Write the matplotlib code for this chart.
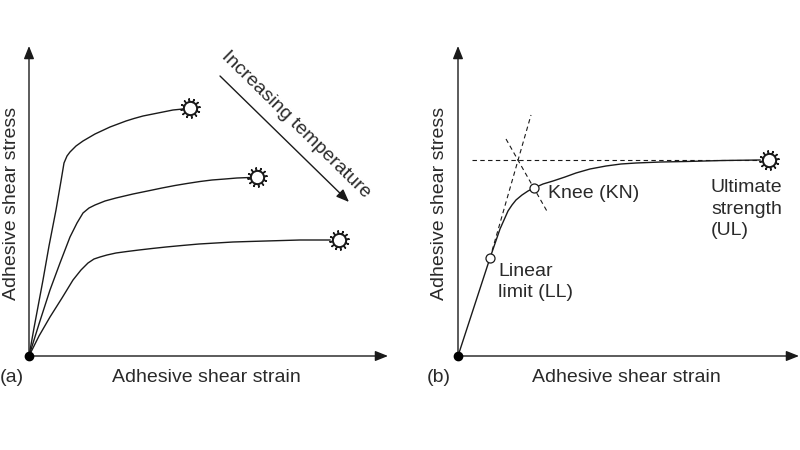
#!/usr/bin/env python
import matplotlib

matplotlib.use("Agg")
import matplotlib.pyplot as plt

plt.rcParams["font.family"] = ["Liberation Sans", "DejaVu Sans"]

curve_high_x = [0, 5, 14, 20, 27, 32, 35, 38, 41, 47, 54, 66, 81, 89, 97, 105, 114, 124, 134, 144, 154]
curve_high_y = [0, 28, 76, 110, 146, 175, 193, 200, 204, 210, 215, 222, 229, 232, 235, 237.5, 240, 242, 244, 246, 247]
curve_mid_x = [0, 10, 21, 31, 41, 48, 54, 60, 66, 76, 87, 104, 121, 133, 146, 158, 171, 183, 196, 208, 221]
curve_mid_y = [0, 32, 66, 93, 119, 133, 143, 148, 151, 155, 158, 162, 165.5, 168, 170.5, 172.5, 174.5, 176, 177, 178, 178.5]
curve_low_x = [0, 10, 21, 33, 44, 52, 59, 65, 71, 78, 87, 98, 110, 123, 137, 153, 170, 187, 204, 220, 237, 254, 271, 301]
curve_low_y = [0, 20, 39, 58, 76, 86, 93, 97, 99, 101, 103, 104.5, 106, 107.5, 109, 110.5, 112, 113, 114, 114.5, 115, 115.5, 116, 116]
fail_x = [161, 228, 310]
fail_y = [248, 179, 116]

curve_b_x = [0, 16, 32, 42, 50, 54, 58, 64, 70, 76, 85, 95, 107, 118, 132, 148, 163, 178, 203, 228, 265, 302]
curve_b_y = [0, 49, 98, 127, 145, 151, 156, 161, 165, 168, 172, 175, 179, 183, 187, 190, 192, 193, 194, 194.5, 195.5, 196]
limit_x = [32, 76]
limit_y = [98, 168]
ultimate_x = [311]
ultimate_y = [196]
dash_flat_x = [14, 302]
dash_flat_y = [196, 196]
dash_rise_x = [32, 73]
dash_rise_y = [98, 241]
dash_fall_x = [48, 90]
dash_fall_y = [217, 143]

line_clr = "#1a1a1a"
text_clr = "#2a2a2a"
font_size = 14


def panel_axes(fig, left_px, origin_px):
    # 400x450 px panel, data units stay equal to pixels
    ax = fig.add_axes([left_px / 800, 0, 400 / 800, 1])
    ax.set_xlim(left_px - origin_px, left_px + 400 - origin_px)
    ax.set_ylim(-94, 356)
    ax.set_axis_off()
    return ax


def draw_arrow(ax, start, end, lw=1.0):
    ax.annotate(
        "",
        xy=end,
        xytext=start,
        arrowprops=dict(
            arrowstyle="-|>,head_length=0.55,head_width=0.22",
            color=line_clr,
            lw=lw,
            shrinkA=0,
            shrinkB=0,
            mutation_scale=14,
        ),
    )


def draw_burst(ax, x, y):
    ax.plot(x, y, ls="none", marker=(12, 2, 8), ms=14.5, mew=1.1, color=line_clr, zorder=4)
    ax.plot(x, y, ls="none", marker="o", ms=9.5, mew=1.4, mfc="white", mec=line_clr, zorder=5)


def draw_frame(ax, x_tip, y_tip):
    draw_arrow(ax, (0, 0), (x_tip, 0))
    draw_arrow(ax, (0, 0), (0, y_tip))
    ax.plot([0], [0], marker="o", ms=6, color="black", zorder=6)


fig = plt.figure(figsize=(8, 4.5), dpi=100)

ax_a = panel_axes(fig, 0, 29)
draw_frame(ax_a, 359, 310)
for x_vals, y_vals in [
    (curve_high_x, curve_high_y),
    (curve_mid_x, curve_mid_y),
    (curve_low_x, curve_low_y),
]:
    ax_a.plot(x_vals, y_vals, color=line_clr, lw=1.0, solid_joinstyle="round")
draw_burst(ax_a, fail_x, fail_y)
draw_arrow(ax_a, (191, 280), (320, 154))
ax_a.text(267, 231, "Increasing temperature", rotation=-44.5, rotation_mode="anchor",
          ha="center", va="center", fontsize=font_size, color=text_clr)
ax_a.text(-29, -21, "(a)", ha="left", va="center", fontsize=font_size, color=text_clr)
ax_a.text(177, -21, "Adhesive shear strain", ha="center", va="center",
          fontsize=font_size, color=text_clr)
ax_a.text(-17, 153, "Adhesive shear stress", rotation=90, ha="center", va="center",
          fontsize=font_size, color=text_clr)

ax_b = panel_axes(fig, 400, 458)
draw_frame(ax_b, 341, 310)
ax_b.plot(curve_b_x, curve_b_y, color=line_clr, lw=1.0, solid_joinstyle="round")
for x_vals, y_vals in [
    (dash_flat_x, dash_flat_y),
    (dash_rise_x, dash_rise_y),
    (dash_fall_x, dash_fall_y),
]:
    ax_b.plot(x_vals, y_vals, color=line_clr, lw=0.8, dashes=(4, 3))
ax_b.plot(limit_x, limit_y, ls="none", marker="o", ms=6.5, mew=0.9, mfc="white",
          mec=line_clr, zorder=5)
draw_burst(ax_b, ultimate_x, ultimate_y)
ax_b.text(-31, -21, "(b)", ha="left", va="center", fontsize=font_size, color=text_clr)
ax_b.text(168, -21, "Adhesive shear strain", ha="center", va="center",
          fontsize=font_size, color=text_clr)
ax_b.text(-18.5, 153, "Adhesive shear stress", rotation=90, ha="center", va="center",
          fontsize=font_size, color=text_clr)
ax_b.text(90, 162, "Knee (KN)", ha="left", va="center", fontsize=font_size, color=text_clr)
ax_b.text(40, 74, "Linear\nlimit (LL)", ha="left", va="center", linespacing=1.3,
          fontsize=font_size, color=text_clr)
ax_b.text(253, 147, "Ultimate\nstrength\n(UL)", ha="left", va="center", linespacing=1.38,
          fontsize=font_size, color=text_clr)

plt.savefig("out.png", dpi=100)
